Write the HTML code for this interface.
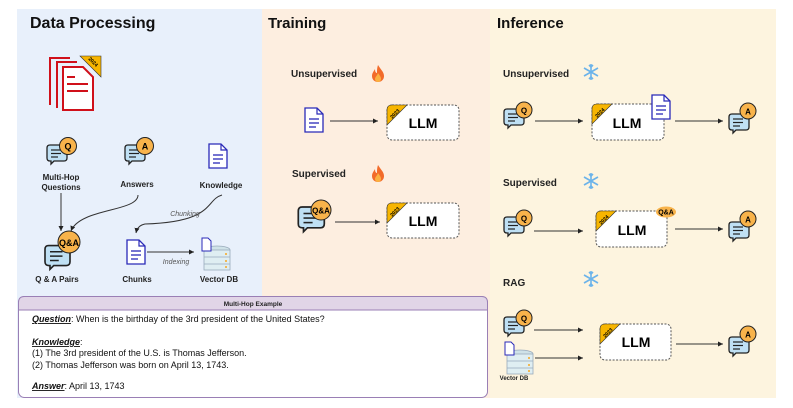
<!DOCTYPE html>
<html><head><meta charset="utf-8"><style>
html,body{margin:0;padding:0;background:#fff}
svg{display:block;font-family:"Liberation Sans",Arial,sans-serif}
</style></head><body>
<svg width="793" height="408" viewBox="0 0 793 408" xmlns="http://www.w3.org/2000/svg">
<defs>
<marker id="ar" markerWidth="6" markerHeight="6" refX="5" refY="3" orient="auto" markerUnits="userSpaceOnUse"><path d="M0,0.5 L5,3 L0,5.5 Z" fill="#222"/></marker>
<g id="bub">
 <path d="M1,3 q0,-3 3,-3 h14 q3,0 3,3 v10 q0,3 -3,3 h-10 l-3,3 v-3 h-1 q-3,0 -3,-3 z" fill="#bfe0f4" stroke="#222" stroke-width="1.3"/>
 <line x1="5" y1="5" x2="15" y2="5" stroke="#222" stroke-width="1.2"/>
 <line x1="5" y1="8.5" x2="15" y2="8.5" stroke="#222" stroke-width="1.2"/>
 <line x1="5" y1="12" x2="12" y2="12" stroke="#222" stroke-width="1.2"/>
</g>
<g id="doc">
 <path d="M0,0 h12 l6,6 v18 h-18 z" fill="#fff" stroke="#2a2ab8" stroke-width="1.3"/>
 <path d="M12,0 v6 h6" fill="none" stroke="#2a2ab8" stroke-width="1.2"/>
 <line x1="4" y1="11" x2="14" y2="11" stroke="#2a2ab8" stroke-width="1.3"/>
 <line x1="4" y1="15" x2="14" y2="15" stroke="#2a2ab8" stroke-width="1.3"/>
 <line x1="4" y1="19" x2="11" y2="19" stroke="#2a2ab8" stroke-width="1.3"/>
</g>
<g id="db">
 <ellipse cx="14" cy="4" rx="13" ry="4" fill="#cfe2e8" stroke="#9ab" stroke-width="0.8"/>
 <rect x="1" y="4" width="26" height="20" fill="#dfeef2" stroke="#9ab" stroke-width="0.8"/>
 <line x1="1" y1="11" x2="27" y2="11" stroke="#9ab" stroke-width="0.8"/>
 <line x1="1" y1="18" x2="27" y2="18" stroke="#9ab" stroke-width="0.8"/>
 <circle cx="23" cy="8" r="1" fill="#f5a623"/><circle cx="23" cy="15" r="1" fill="#f5a623"/><circle cx="23" cy="21" r="1" fill="#f5a623"/>
 <path d="M-1,-8 h6 l3,3 v10 h-9 z" fill="#fff" stroke="#2a2ab8" stroke-width="1"/>
</g>
<g id="fire"><path d="M6,0 C9,5 12,7 12,11 C12,15 9,17 6,17 C3,17 0,15 0,11 C0,8 2,6 3,4 C3,7 4,8 5,8 C5,5 5,3 6,0 Z" fill="#f26b2a"/><path d="M6,8 C8,11 9,12 9,14 C9,16 7,17 6,17 C5,17 3,16 3,14 C3,12 5,11 6,8Z" fill="#fbb040"/></g>
<g id="snow" stroke="#6bb3ea" stroke-width="1.6" fill="none"><line x1="0" y1="-8" x2="0" y2="8"/><line x1="-7" y1="-4" x2="7" y2="4"/><line x1="-7" y1="4" x2="7" y2="-4"/><path d="M-2,-7 L0,-5 L2,-7 M-2,7 L0,5 L2,7"/></g>
</defs>

<!-- panels -->
<rect x="17" y="9" width="245" height="389" fill="#e8f0fb"/>
<rect x="262" y="9" width="228" height="389" fill="#fdeee0"/>
<rect x="490" y="9" width="286" height="389" fill="#fdf4df"/>

<text x="30" y="28" font-size="16" font-weight="bold" fill="#111">Data Processing</text>
<text x="268" y="28" font-size="15" font-weight="bold" fill="#111">Training</text>
<text x="497" y="28" font-size="15" font-weight="bold" fill="#111">Inference</text>

<!-- red docs -->
<g fill="none" stroke="#d0101a" stroke-width="2">
<path d="M50,105 V58 h20"/><path d="M57,108 V62 h20"/>
<path d="M63,67 h20 l10,10 v33 h-30 z" fill="#fff"/>
<line x1="67" y1="77" x2="75" y2="77"/><line x1="67" y1="84" x2="88" y2="84"/><line x1="67" y1="91" x2="88" y2="91"/>
</g>
<path d="M80,56 h21 v21 z" fill="#f7b500" stroke="#333" stroke-width="0.6"/>
<text x="92" y="63" font-size="5" font-weight="bold" transform="rotate(45 92 63)" text-anchor="middle">2024</text>

<!-- data processing icons -->
<use href="#bub" x="46" y="145"/><circle cx="68" cy="146" r="8.5" fill="#f8b34b" stroke="#222" stroke-width="1"/><text x="68" y="149.5" font-size="9" font-weight="bold" text-anchor="middle">Q</text>
<text x="61" y="180" font-size="8" font-weight="bold" text-anchor="middle" fill="#222">Multi-Hop</text>
<text x="61" y="190" font-size="8" font-weight="bold" text-anchor="middle" fill="#222">Questions</text>
<use href="#bub" x="124" y="145"/><circle cx="145" cy="146" r="8.5" fill="#f8b34b" stroke="#222" stroke-width="1"/><text x="145" y="149.5" font-size="9" font-weight="bold" text-anchor="middle">A</text>
<text x="137" y="187" font-size="8" font-weight="bold" text-anchor="middle" fill="#222">Answers</text>
<use href="#doc" x="209" y="144"/>
<text x="221" y="188" font-size="8" font-weight="bold" text-anchor="middle" fill="#222">Knowledge</text>

<use href="#bub" x="43" y="246" transform="translate(-10,-62) scale(1.25)" />
<circle cx="69" cy="242" r="11" fill="#f8b34b" stroke="#222" stroke-width="1"/><text x="69" y="246" font-size="9" font-weight="bold" text-anchor="middle">Q&amp;A</text>
<text x="57" y="282" font-size="8" font-weight="bold" text-anchor="middle" fill="#222">Q &amp; A Pairs</text>
<use href="#doc" x="127" y="240"/>
<text x="137" y="282" font-size="8" font-weight="bold" text-anchor="middle" fill="#222">Chunks</text>
<use href="#db" x="203" y="246"/>
<text x="219" y="282" font-size="8" font-weight="bold" text-anchor="middle" fill="#222">Vector DB</text>

<g fill="none" stroke="#333" stroke-width="1">
<line x1="61" y1="193" x2="61" y2="231" marker-end="url(#ar)"/>
<path d="M138,195 C138,212 80,208 71,231" marker-end="url(#ar)"/>
<path d="M222,195 C205,200 215,222 145,224 C140,225 137,228 136,233" marker-end="url(#ar)"/>
<line x1="147" y1="252" x2="194" y2="252" marker-end="url(#ar)"/>
</g>
<text x="185" y="216" font-size="7" font-style="italic" fill="#555" text-anchor="middle">Chunking</text>
<text x="176" y="264" font-size="7" font-style="italic" fill="#555" text-anchor="middle">Indexing</text>

<!-- Training -->
<text x="291" y="77" font-size="10" font-weight="bold" fill="#222">Unsupervised</text>
<use href="#fire" x="372" y="65"/>
<use href="#doc" x="305" y="108" transform="translate(0,0)"/>
<line x1="330" y1="121" x2="378" y2="121" stroke="#333" marker-end="url(#ar)"/>
<rect x="387" y="105" width="72" height="35" rx="5" fill="#fff" stroke="#555" stroke-dasharray="2,1.5"/>
<path d="M387,110 q0,-5 5,-5 h15 l-20,20 z" fill="#f7b500" stroke="#333" stroke-width="0.6"/>
<text x="396" y="115" font-size="5" font-weight="bold" transform="rotate(-45 396 115)" text-anchor="middle">2023</text>
<text x="423" y="128" font-size="14" font-weight="bold" text-anchor="middle">LLM</text>

<text x="292" y="177" font-size="10" font-weight="bold" fill="#222">Supervised</text>
<use href="#fire" x="372" y="165"/>
<use href="#bub" x="0" y="0" transform="translate(297,207) scale(1.3)"/>
<circle cx="321" cy="210" r="10" fill="#f8b34b" stroke="#222" stroke-width="1"/><text x="321" y="213.5" font-size="8" font-weight="bold" text-anchor="middle">Q&amp;A</text>
<line x1="335" y1="222" x2="380" y2="222" stroke="#333" marker-end="url(#ar)"/>
<rect x="387" y="203" width="72" height="35" rx="5" fill="#fff" stroke="#555" stroke-dasharray="2,1.5"/>
<path d="M387,208 q0,-5 5,-5 h15 l-20,20 z" fill="#f7b500" stroke="#333" stroke-width="0.6"/>
<text x="396" y="213" font-size="5" font-weight="bold" transform="rotate(-45 396 213)" text-anchor="middle">2023</text>
<text x="423" y="226" font-size="14" font-weight="bold" text-anchor="middle">LLM</text>

<!-- Inference -->
<text x="503" y="77" font-size="10" font-weight="bold" fill="#222">Unsupervised</text>
<use href="#snow" x="591" y="72"/>
<use href="#bub" x="503" y="109"/><circle cx="524" cy="110" r="8" fill="#f8b34b" stroke="#222" stroke-width="1"/><text x="524" y="113.5" font-size="8" font-weight="bold" text-anchor="middle">Q</text>
<line x1="535" y1="121" x2="583" y2="121" stroke="#333" marker-end="url(#ar)"/>
<rect x="592" y="104" width="72" height="36" rx="5" fill="#fff" stroke="#555" stroke-dasharray="2,1.5"/>
<path d="M592,109 q0,-5 5,-5 h15 l-20,20 z" fill="#f7b500" stroke="#333" stroke-width="0.6"/>
<text x="601" y="114" font-size="5" font-weight="bold" transform="rotate(-45 601 114)" text-anchor="middle">2024</text>
<text x="627" y="128" font-size="14" font-weight="bold" text-anchor="middle">LLM</text>
<use href="#doc" x="652" y="95"/>
<line x1="675" y1="121" x2="723" y2="121" stroke="#333" marker-end="url(#ar)"/>
<use href="#bub" x="728" y="114"/><circle cx="748" cy="111" r="8" fill="#f8b34b" stroke="#222" stroke-width="1"/><text x="748" y="114.5" font-size="8" font-weight="bold" text-anchor="middle">A</text>

<text x="503" y="186" font-size="10" font-weight="bold" fill="#222">Supervised</text>
<use href="#snow" x="591" y="181"/>
<use href="#bub" x="503" y="217"/><circle cx="524" cy="218" r="8" fill="#f8b34b" stroke="#222" stroke-width="1"/><text x="524" y="221.5" font-size="8" font-weight="bold" text-anchor="middle">Q</text>
<line x1="534" y1="231" x2="583" y2="231" stroke="#333" marker-end="url(#ar)"/>
<rect x="596" y="211" width="71" height="36" rx="5" fill="#fff" stroke="#555" stroke-dasharray="2,1.5"/>
<path d="M596,216 q0,-5 5,-5 h15 l-20,20 z" fill="#f7b500" stroke="#333" stroke-width="0.6"/>
<text x="605" y="221" font-size="5" font-weight="bold" transform="rotate(-45 605 221)" text-anchor="middle">2024</text>
<text x="632" y="235" font-size="14" font-weight="bold" text-anchor="middle">LLM</text>
<ellipse cx="666" cy="212" rx="10" ry="5.5" fill="#f8b34b"/><text x="666" y="214.5" font-size="7" font-weight="bold" text-anchor="middle">Q&amp;A</text>
<line x1="675" y1="229" x2="723" y2="229" stroke="#333" marker-end="url(#ar)"/>
<use href="#bub" x="728" y="222"/><circle cx="748" cy="219" r="8" fill="#f8b34b" stroke="#222" stroke-width="1"/><text x="748" y="222.5" font-size="8" font-weight="bold" text-anchor="middle">A</text>

<text x="503" y="286" font-size="10" font-weight="bold" fill="#222">RAG</text>
<use href="#snow" x="591" y="279"/>
<use href="#bub" x="503" y="317"/><circle cx="524" cy="318" r="8" fill="#f8b34b" stroke="#222" stroke-width="1"/><text x="524" y="321.5" font-size="8" font-weight="bold" text-anchor="middle">Q</text>
<line x1="534" y1="330" x2="583" y2="330" stroke="#333" marker-end="url(#ar)"/>
<use href="#db" x="506" y="350" transform="translate(0,0)"/>
<text x="514" y="380" font-size="6" font-weight="bold" text-anchor="middle" fill="#222">Vector DB</text>
<line x1="535" y1="358" x2="583" y2="358" stroke="#333" marker-end="url(#ar)"/>
<rect x="600" y="324" width="71" height="36" rx="5" fill="#fff" stroke="#555" stroke-dasharray="2,1.5"/>
<path d="M600,329 q0,-5 5,-5 h15 l-20,20 z" fill="#f7b500" stroke="#333" stroke-width="0.6"/>
<text x="609" y="334" font-size="5" font-weight="bold" transform="rotate(-45 609 334)" text-anchor="middle">2023</text>
<text x="636" y="347" font-size="14" font-weight="bold" text-anchor="middle">LLM</text>
<line x1="676" y1="344" x2="723" y2="344" stroke="#333" marker-end="url(#ar)"/>
<use href="#bub" x="728" y="337"/><circle cx="748" cy="334" r="8" fill="#f8b34b" stroke="#222" stroke-width="1"/><text x="748" y="337.5" font-size="8" font-weight="bold" text-anchor="middle">A</text>

<!-- Example box -->
<rect x="18.5" y="296.5" width="469" height="101" rx="6" fill="#fff" stroke="#9a7fb5"/>
<path d="M18.5,310 V302.5 q0,-6 6,-6 h457 q6,0 6,6 V310 z" fill="#e1d5e7" stroke="#9a7fb5"/>
<text x="253" y="306" font-size="6.5" font-weight="bold" text-anchor="middle" fill="#222">Multi-Hop Example</text>
<g font-size="9" fill="#111">
<text x="32" y="322"><tspan font-weight="bold" font-style="italic" text-decoration="underline">Question</tspan>: When is the birthday of the 3rd president of the United States?</text>
<text x="32" y="345"><tspan font-weight="bold" font-style="italic" text-decoration="underline">Knowledge</tspan>:</text>
<text x="32" y="356">(1) The 3rd president of the U.S. is Thomas Jefferson.</text>
<text x="32" y="368">(2) Thomas Jefferson was born on April 13, 1743.</text>
<text x="32" y="389"><tspan font-weight="bold" font-style="italic" text-decoration="underline">Answer</tspan>: April 13, 1743</text>
</g>
</svg>
</body></html>
